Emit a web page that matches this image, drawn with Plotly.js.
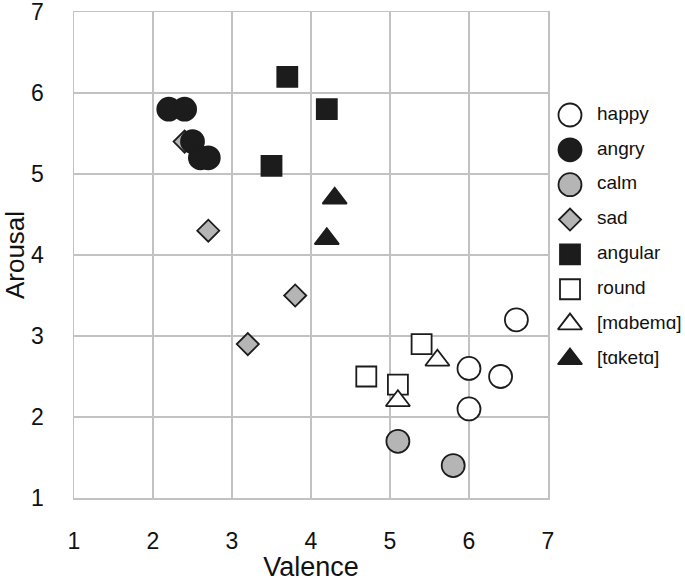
<!DOCTYPE html>
<html>
<head>
<meta charset="utf-8">
<script src="https://cdn.plot.ly/plotly-3.0.1.min.js"></script>
<style>
  html, body { margin: 0; padding: 0; background: #fff; }
  #chart { width: 685px; height: 582px; }
</style>
</head>
<body>
<div id="chart"></div>
<script>
// values: valence (x) / arousal (y) per group
const happyX = [6.6, 6.0, 6.4, 6.0];
const happyY = [3.2, 2.6, 2.5, 2.1];
const angryX = [2.2, 2.4, 2.5, 2.6, 2.7];
const angryY = [5.8, 5.8, 5.4, 5.2, 5.2];
const calmX = [5.1, 5.8];
const calmY = [1.7, 1.4];
const sadX = [2.4, 2.7, 3.8, 3.2];
const sadY = [5.4, 4.3, 3.5, 2.9];
const angularX = [3.7, 4.2, 3.5];
const angularY = [6.2, 5.8, 5.1];
const roundX = [5.4, 4.7, 5.1];
const roundY = [2.9, 2.5, 2.4];
const mabemaX = [5.6, 5.1];
const mabemaY = [2.7, 2.2];
const taketaX = [4.3, 4.2];
const taketaY = [4.7, 4.2];
const legendLabels = ["happy", "angry", "calm", "sad", "angular", "round", "[mɑbemɑ]", "[tɑketɑ]"];
const axisTicks = [1, 2, 3, 4, 5, 6, 7];

const FONT = "Liberation Sans, Arial, sans-serif";
const DARK = "#1c1c1c";
const GREY = "#b5b5b5";
const GRID = "#c2c2c2";
const WHITE = "#ffffff";

// marker look per group, keyed by legend label
const styles = {
  "happy": { symbol: "circle", size: 23, color: WHITE },
  "angry": { symbol: "circle", size: 23, color: DARK },
  "calm": { symbol: "circle", size: 23, color: GREY },
  "sad": { symbol: "diamond", size: 17, color: GREY },
  "angular": { symbol: "square", size: 20, color: DARK },
  "round": { symbol: "square", size: 20, color: WHITE },
  "[mɑbemɑ]": { symbol: "triangle-up", size: 21, color: WHITE },
  "[tɑketɑ]": { symbol: "triangle-up", size: 21, color: DARK },
};

function markerFor(label) {
  const s = styles[label];
  return { symbol: s.symbol, size: s.size, color: s.color, opacity: 1, line: { color: DARK, width: 1.8 } };
}

function group(label, x, y) {
  return { type: "scatter", mode: "markers", name: label, x, y, marker: markerFor(label), showlegend: false };
}

// draw order matters: sad diamond sits behind the angry circles,
// round square behind the [mɑbemɑ] triangle
const traces = [
  group("sad", sadX, sadY),
  group("angry", angryX, angryY),
  group("happy", happyX, happyY),
  group("calm", calmX, calmY),
  group("angular", angularX, angularY),
  group("round", roundX, roundY),
  group("[mɑbemɑ]", mabemaX, mabemaY),
  group("[tɑketɑ]", taketaX, taketaY),
];

// key drawn on its own little axis (units = px) so the symbols keep their full size
const legendRows = legendLabels.map((_, i) => i);
traces.push({
  type: "scatter",
  mode: "markers",
  x: legendRows.map(() => 0),
  y: legendRows,
  xaxis: "x2",
  yaxis: "y2",
  marker: {
    symbol: legendLabels.map((l) => styles[l].symbol),
    size: legendLabels.map((l) => styles[l].size),
    color: legendLabels.map((l) => styles[l].color),
    opacity: 1,
    line: { color: DARK, width: 1.8 },
  },
  showlegend: false,
  cliponaxis: false,
});
traces.push({
  type: "scatter",
  mode: "text",
  x: legendRows.map(() => 27),
  y: legendRows,
  xaxis: "x2",
  yaxis: "y2",
  text: legendLabels,
  textposition: "middle right",
  textfont: { family: FONT, size: 19, color: "#111" },
  showlegend: false,
  cliponaxis: false,
});

const W = 685;
const plotRight = 548;
const marginL = 74;
const mainDomain = (plotRight - marginL) / (W - marginL);

const axisCommon = {
  range: [1, 7],
  tickvals: axisTicks,
  ticktext: axisTicks.map(String),
  showgrid: true,
  gridcolor: GRID,
  gridwidth: 1.5,
  showline: true,
  linecolor: GRID,
  linewidth: 1.5,
  mirror: true,
  zeroline: false,
  ticks: "outside",
  tickcolor: "rgba(0,0,0,0)",
  ticklabeloverflow: "allow",
  tickfont: { family: FONT, size: 23, color: "#111" },
  fixedrange: true,
};

const hidden = { visible: false, fixedrange: true };

const layout = {
  width: W,
  height: 582,
  margin: { l: marginL, r: 0, t: 12, b: 84 },
  paper_bgcolor: "#fff",
  plot_bgcolor: "rgba(0,0,0,0)",
  font: { family: FONT, color: "#111" },
  showlegend: false,
  xaxis: {
    ...axisCommon,
    domain: [0, mainDomain],
    ticklen: 22,
    title: { text: "Valence", font: { family: FONT, size: 27, color: "#111" }, standoff: 10 },
  },
  yaxis: {
    ...axisCommon,
    ticklen: 24,
    title: { text: "Arousal", font: { family: FONT, size: 26, color: "#111" }, standoff: 6 },
  },
  xaxis2: { ...hidden, domain: [mainDomain, 1], range: [-22, 115], anchor: "y2" },
  yaxis2: { ...hidden, domain: [0, 1], range: [10.99, -2.955], anchor: "x2" },
};

Plotly.newPlot("chart", traces, layout, { displayModeBar: false, staticPlot: true });
</script>
</body>
</html>
